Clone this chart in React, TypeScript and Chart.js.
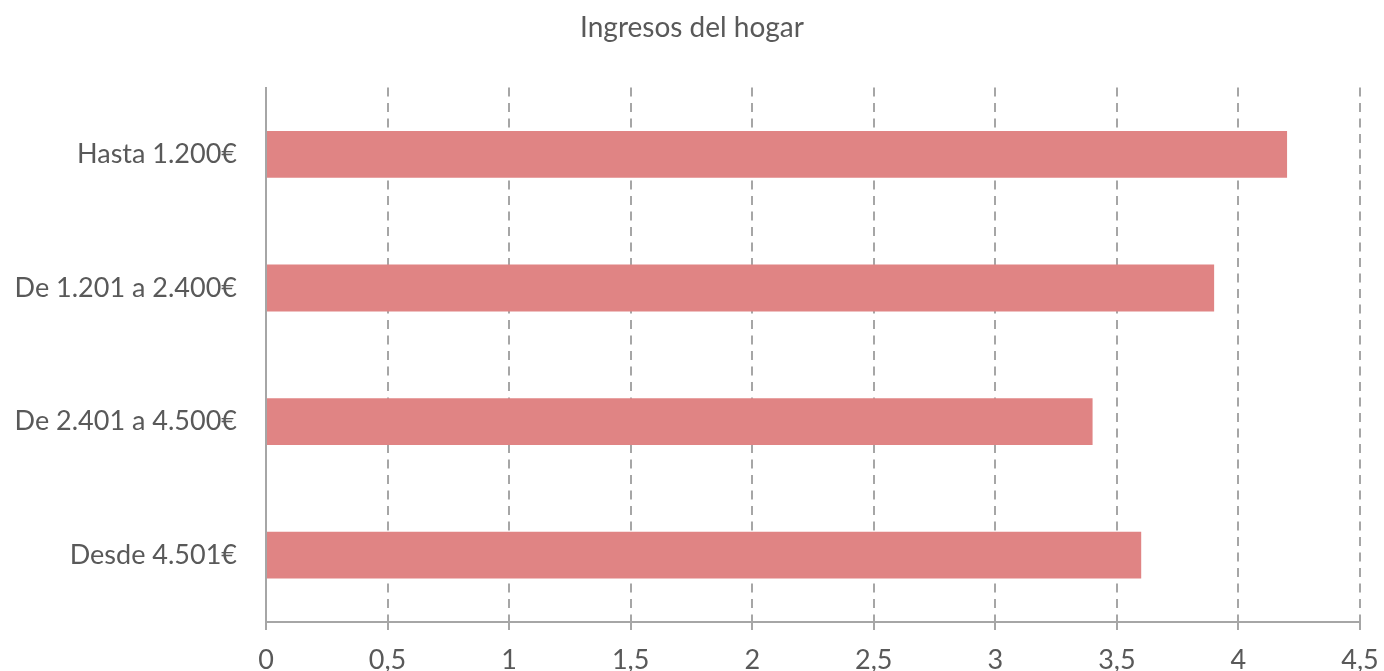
import React, { useEffect, useRef } from "react";
import { Chart, registerables } from "chart.js";

Chart.register(...registerables);

const title = "Ingresos del hogar";
const categories = ["Hasta 1.200€", "De 1.201 a 2.400€", "De 2.401 a 4.500€", "Desde 4.501€"];
const values = [4.2, 3.9, 3.4, 3.6];
const xMin = 0;
const xMax = 4.5;
const xStep = 0.5;

const FONT = "Lato, 'Open Sans', sans-serif";
const TEXT = "#595959";
const AXIS = "#A6A6A6";

export default function App() {
  const ref = useRef<HTMLCanvasElement | null>(null);

  useEffect(() => {
    if (!ref.current) return;
    const chart = new Chart(ref.current, {
      type: "bar",
      data: {
        labels: categories,
        datasets: [
          {
            data: values,
            backgroundColor: "#E08484",
            borderWidth: 0,
            categoryPercentage: 1,
            barPercentage: 0.35,
          },
        ],
      },
      options: {
        indexAxis: "y",
        animation: false,
        responsive: false,
        maintainAspectRatio: false,
        layout: { padding: { left: 0, right: 0, top: 0, bottom: 0 } },
        plugins: {
          legend: { display: false },
          tooltip: { enabled: false },
          title: {
            display: true,
            text: title,
            color: TEXT,
            font: { family: FONT, size: 28, weight: "normal" },
            padding: { top: 11, bottom: 43 },
          },
        },
        scales: {
          x: {
            type: "linear",
            position: "bottom",
            min: xMin,
            max: xMax,
            ticks: {
              stepSize: xStep,
              color: TEXT,
              font: { family: FONT, size: 27 },
              padding: 14,
              callback: (v: any) => String(v).replace(".", ","),
            },
            grid: {
              display: true,
              color: AXIS,
              lineWidth: 2,
              drawTicks: true,
              tickLength: 8,
              tickColor: AXIS,
              tickWidth: 2,
              tickBorderDash: [],
            },
            border: { display: true, color: AXIS, width: 2, dash: [9, 6.5] },
            afterFit: (scale: any) => {
              scale.height = 49;
              scale.paddingRight = 24;
              scale.paddingLeft = 0;
            },
          },
          y: {
            type: "category",
            ticks: {
              color: TEXT,
              font: { family: FONT, size: 27 },
              padding: 29,
            },
            grid: { display: false, drawTicks: false },
            border: { display: true, color: AXIS, width: 2 },
            afterFit: (scale: any) => {
              scale.width = 266;
              scale.paddingTop = 0;
              scale.paddingBottom = 0;
            },
          },
        },
      },
    });
    return () => chart.destroy();
  }, []);

  return (
    <div style={{ width: 1384, height: 671, overflow: "hidden", position: "relative" }}>
      <style>{"body{margin:0;}"}</style>
      <canvas ref={ref} width={1384} height={671} style={{ display: "block" }} />
    </div>
  );
}
